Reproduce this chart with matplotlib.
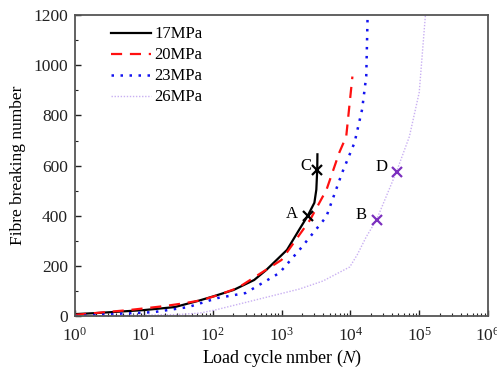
import matplotlib
matplotlib.use("Agg")
import matplotlib.pyplot as plt
from matplotlib.ticker import LogLocator, MultipleLocator, NullFormatter

plt.rcParams['font.family'] = ['Liberation Serif', 'DejaVu Serif']
plt.rcParams['mathtext.fontset'] = 'stix'

# 17 MPa
n17 = [1, 2, 10, 28, 60, 100, 200, 400, 600, 1200, 1800, 2400, 3000, 3200, 3300, 3320]
v17 = [8, 12, 24, 36, 60, 78, 104, 144, 184, 264, 344, 400, 452, 504, 584, 645]
# 20 MPa
n20 = [1, 6, 11, 20, 40, 70, 120, 230, 1000, 2600, 4500, 6900, 8700, 10700]
v20 = [5, 24, 32, 40, 52, 64, 84, 112, 224, 384, 504, 652, 716, 955]
# 23 MPa
n23 = [1, 1.4, 7, 14, 44, 117, 300, 930, 1820, 4470, 7600, 11500, 14800, 17000, 17800]
v23 = [0, 2, 12, 16, 36, 72, 92, 172, 264, 396, 572, 692, 824, 956, 1200]
# 26 MPa
n26 = [1, 30, 65, 107, 316, 1820, 4000, 9800, 12600, 17000, 24000, 46800, 72000, 100000, 123000]
v26 = [0, 6, 12, 24, 56, 108, 140, 196, 245, 316, 384, 576, 716, 892, 1200]

# marked points
mark_n = [2400, 3300, 24000, 46800]
mark_v = [400, 584, 384, 576]
mark_lbl = ['A', 'C', 'B', 'D']
mark_col = ['black', 'black', '#7B2FBE', '#7B2FBE']
lbl_n = [1390, 2290, 14400, 28200]
lbl_v = [408, 600, 404, 596]

fig = plt.figure(figsize=(4.97, 3.68), dpi=100)
ax = fig.add_axes([0.151, 0.141, 0.831, 0.818])

ax.plot(n17, v17, color='black', lw=1.6, label='17MPa')
ax.plot(n20, v20, color='#FF1010', lw=1.6, ls=(0, (5, 3.5)), label='20MPa')
ax.plot(n23, v23, color='#1414F0', lw=1.8, ls=(0, (1, 2.6)), label='23MPa')
ax.plot(n26, v26, color='#C9B0F2', lw=1.0, ls=(0, (1, 1.2)), label='26MPa')

for n, v, c in zip(mark_n, mark_v, mark_col):
    ax.plot([n], [v], marker='x', color=c, ms=7, mew=1.6, ls='none')
for n, v, t in zip(lbl_n, lbl_v, mark_lbl):
    ax.text(n, v, t, ha='center', va='center', fontsize=12)

ax.set_xscale('log')
ax.set_xlim(1, 1e6)
ax.set_ylim(0, 1200)
ax.xaxis.set_major_locator(LogLocator(base=10, numticks=10))
ax.xaxis.set_minor_locator(LogLocator(base=10, subs=range(2, 10), numticks=20))
ax.xaxis.set_minor_formatter(NullFormatter())
ax.yaxis.set_major_locator(MultipleLocator(200))
ax.yaxis.set_minor_locator(MultipleLocator(100))

ax.tick_params(which='both', direction='in', top=False, right=False, labelsize=12.5, colors='#222222')
ax.tick_params(axis='x', which='major', pad=8)
ax.tick_params(axis='y', which='major', pad=5)
ax.tick_params(which='major', length=4, width=1)
ax.tick_params(which='minor', length=2.2, width=0.8)
for s in ax.spines.values():
    s.set_color('#555555')
    s.set_linewidth(1.3)

ax.set_xlabel('Load cycle nmber ($\\mathit{N}$)', fontsize=13, labelpad=2)
ax.set_ylabel('Fibre breaking number', fontsize=12.5, labelpad=5)

leg = ax.legend(loc='upper left', bbox_to_anchor=(0.05, 1.012), frameon=False,
                fontsize=12, handlelength=2.4, handletextpad=0.2, labelspacing=0.3)

fig.savefig('out.png', dpi=100)
